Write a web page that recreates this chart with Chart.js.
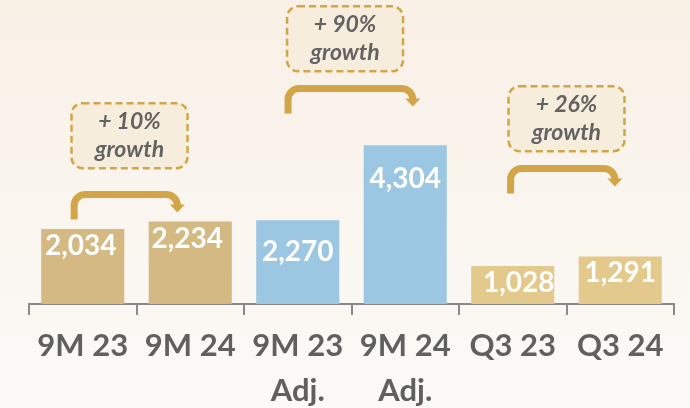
<!DOCTYPE html>
<html>
<head>
<meta charset="utf-8">
<script src="https://cdn.jsdelivr.net/npm/chart.js@4.4.1/dist/chart.umd.min.js"></script>
<style>
  html, body { margin: 0; padding: 0; background: #fbfaf7; }
  canvas { display: block; }
</style>
</head>
<body>
<canvas id="myChart" width="690" height="408"></canvas>
<script>
const LABELS = [['9M 23'], ['9M 24'], ['9M 23', 'Adj.'], ['9M 24', 'Adj.'], ['Q3 23'], ['Q3 24']];
const VALUES = [2034, 2234, 2270, 4304, 1028, 1291];
const VALUE_TEXT = ['2,034', '2,234', '2,270', '4,304', '1,028', '1,291'];
const GROWTH_TEXT = ['+ 10%', '+ 90%', '+ 26%'];
const GROWTH_FROM = [0, 2, 4];

const BAR_COLORS = ['#d5b983', '#d5b983', '#9bc7e2', '#9bc7e2', '#e3c98c', '#e3c98c'];

// label placement inside bars (px below top, px sideways)
const labelDrop = [17, 17, 32, 34, 17, 17];
const labelShift = [-2, -3, 0, 0, 6, 0];

// annotation placement: bracket top and box centre in value units, x in category units
const bracketTop = [3064, 5939, 3769];
const bracketLeft = [-0.08, -0.09, -0.02];
const bracketRight = [-0.12, 0.07, -0.05];
const boxCenterY = [4566, 7190, 5025];
const boxCenterX = [0.435, 2.44, 4.5];

const GOLD = '#d2a548';

const background = {
    id: 'background',
    beforeDraw(chart) {
        const c = chart.ctx;
        const g = c.createLinearGradient(0, 0, 0, chart.height);
        g.addColorStop(0, '#f9f0e6');
        g.addColorStop(1, '#fbfaf7');
        c.save();
        c.fillStyle = g;
        c.fillRect(0, 0, chart.width, chart.height);
        c.restore();
    }
};

function roundRect(c, x, y, w, h, r) {
    c.beginPath();
    c.moveTo(x + r, y);
    c.arcTo(x + w, y, x + w, y + h, r);
    c.arcTo(x + w, y + h, x, y + h, r);
    c.arcTo(x, y + h, x, y, r);
    c.arcTo(x, y, x + w, y, r);
    c.closePath();
}

const decorations = {
    id: 'decorations',
    afterDatasetsDraw(chart) {
        const c = chart.ctx;
        const xs = chart.scales.x;
        const ys = chart.scales.y;
        const meta = chart.getDatasetMeta(0);

        // values inside bars
        c.save();
        c.fillStyle = '#ffffff';
        c.font = 'bold 28px Lato';
        c.textAlign = 'center';
        c.textBaseline = 'middle';
        meta.data.forEach((bar, i) => {
            c.fillText(VALUE_TEXT[i], bar.x + labelShift[i], bar.y + labelDrop[i]);
        });
        c.restore();

        // growth brackets and boxes
        GROWTH_TEXT.forEach((txt, k) => {
            const i = GROWTH_FROM[k];
            const xL = xs.getPixelForValue(i + bracketLeft[k]);
            const xR = xs.getPixelForValue(i + 1 + bracketRight[k]);
            const top = ys.getPixelForValue(bracketTop[k]) + 3.5;
            const legBottom = top + 25;
            const tip = top + 17;
            const r = 11;

            c.save();
            c.strokeStyle = GOLD;
            c.fillStyle = GOLD;
            c.lineWidth = 7;
            c.beginPath();
            c.moveTo(xL, legBottom);
            c.lineTo(xL, top + r);
            c.arcTo(xL, top, xL + r, top, r);
            c.lineTo(xR - r, top);
            c.arcTo(xR, top, xR, top + r, r);
            c.lineTo(xR, tip - 6);
            c.stroke();
            c.beginPath();
            c.moveTo(xR - 7.5, tip - 7);
            c.lineTo(xR + 7.5, tip - 7);
            c.lineTo(xR, tip + 1);
            c.closePath();
            c.fill();
            c.restore();

            const cx = xs.getPixelForValue(boxCenterX[k]);
            const cy = ys.getPixelForValue(boxCenterY[k]);
            const w = 116, h = 65;
            c.save();
            roundRect(c, cx - w / 2, cy - h / 2, w, h, 11);
            c.fillStyle = '#f6eddc';
            c.fill();
            c.setLineDash([7, 4]);
            c.lineWidth = 2.5;
            c.strokeStyle = GOLD;
            c.stroke();
            c.setLineDash([]);
            c.fillStyle = '#636363';
            c.font = 'italic bold 23px Lato';
            c.textAlign = 'center';
            c.textBaseline = 'middle';
            c.fillText(txt, cx, cy - 14);
            c.fillText('growth', cx, cy + 14);
            c.restore();
        });
    }
};

const ctx = document.getElementById('myChart');
const myChart = new Chart(ctx, {
    type: 'bar',
    data: {
        labels: LABELS,
        datasets: [{
            data: VALUES,
            backgroundColor: BAR_COLORS,
            borderWidth: 0,
            barPercentage: 0.773,
            categoryPercentage: 1
        }]
    },
    options: {
        responsive: false,
        animation: false,
        devicePixelRatio: 1,
        layout: { padding: { left: 29, right: 16, top: 9, bottom: 0 } },
        plugins: {
            legend: { display: false },
            tooltip: { enabled: false }
        },
        scales: {
            x: {
                afterFit(scale) { scale.height = 104; },
                grid: {
                    offset: true,
                    drawOnChartArea: false,
                    drawTicks: true,
                    tickLength: 11,
                    color: '#8a8a8a',
                    lineWidth: 2
                },
                border: { display: true, color: '#8a8a8a', width: 2 },
                ticks: {
                    color: '#606060',
                    padding: 9,
                    maxRotation: 0,
                    autoSkip: false,
                    font: { family: 'Lato', size: 31, weight: 'bold', lineHeight: 1.45 }
                }
            },
            y: {
                display: false,
                min: 0,
                max: 8000
            }
        }
    },
    plugins: [background, decorations]
});
</script>
</body>
</html>
